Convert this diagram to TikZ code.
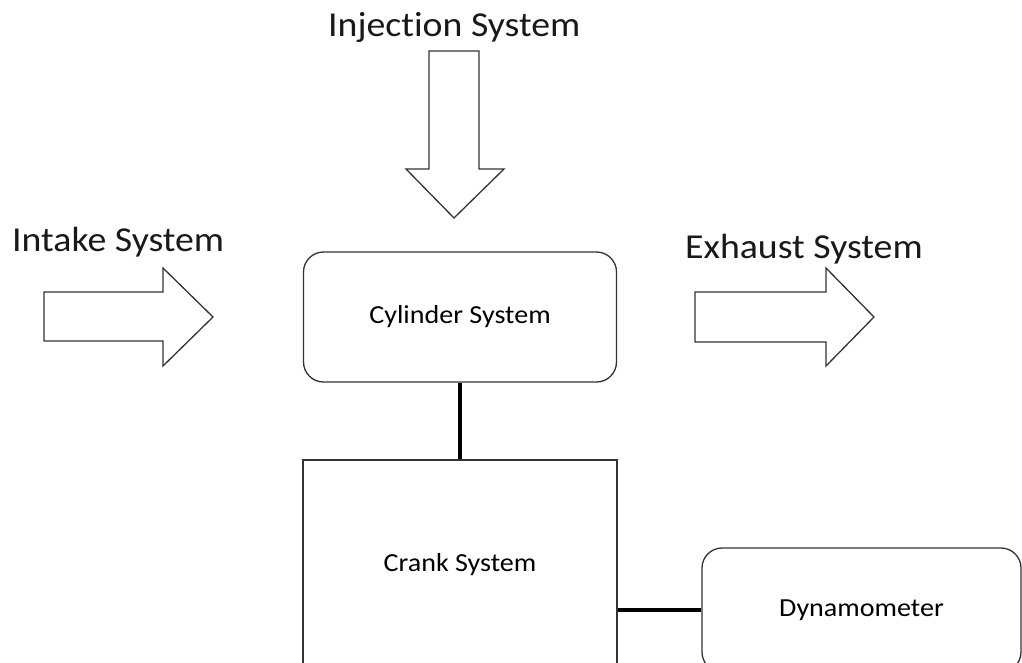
\documentclass[tikz,border=0pt]{standalone}
\usepackage{graphicx}
\usepackage{fontspec}
\setmainfont{Carlito}[Ligatures=CommonOff]
\newcommand{\wtext}[1]{\scalebox{1.08}[1]{#1}}
\begin{document}
\begin{tikzpicture}[x=1pt,y=-1pt,
  shp/.style={draw=black!80, line width=1.3pt, fill=white},
  box/.style={shp, rectangle, inner sep=0pt, font=\fontsize{26}{30}\selectfont},
  link/.style={line width=4pt, draw=black},
  lbl/.style={font=\fontsize{35}{40}\selectfont, inner sep=0pt, anchor=base west, text=black!90}]
\useasboundingbox (0,0) rectangle (1022,663);
\begin{scope}
\clip (0,0) rectangle (1022,663);
% block arrows
\draw[shp, line join=miter] (429,51) -- (479,51) -- (479,169) -- (504,169) -- (454,218) -- (406,169) -- (429,169) -- cycle;
\draw[shp, line join=miter] (44,292) -- (163,292) -- (163,268) -- (213,317) -- (163,366) -- (163,341) -- (44,341) -- cycle;
\draw[shp, line join=miter] (695,292) -- (826,292) -- (826,268) -- (874,317) -- (826,366) -- (826,342) -- (695,342) -- cycle;
% labels
\node[lbl] (inj) at (328,37) {\wtext{Injection System}};
\node[lbl] (intake) at (12,251) {\wtext{Intake System}};
\node[lbl] (exh) at (685,258) {\wtext{Exhaust System}};
% boxes
\node[box, rounded corners=20pt, minimum width=313pt, minimum height=130pt] (cyl) at (460,317) {\wtext{Cylinder System}};
\node[box, minimum width=314pt, minimum height=210pt] (crank) at (460,565) {\wtext{Crank System}};
\node[box, rounded corners=20pt, minimum width=319pt, minimum height=124pt] (dyn) at (861.5,610) {\wtext{Dynamometer}};
% connectors
\draw[link] (cyl.south) -- (crank.north);
\draw[link] (dyn.west) -- (dyn.west -| crank.east);
\end{scope}
\end{tikzpicture}
\end{document}
